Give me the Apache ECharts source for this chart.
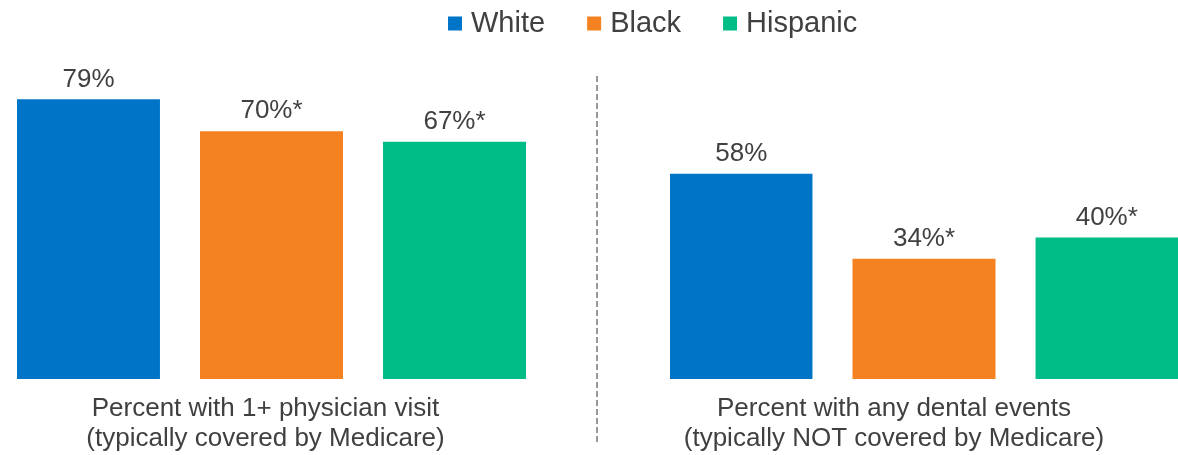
<!DOCTYPE html>
<html>
<head>
<meta charset="utf-8">
<script src="https://cdn.jsdelivr.net/npm/echarts@6/dist/echarts.min.js"></script>
<style>
  html, body { margin: 0; padding: 0; background: #fff; }
  #chart { width: 1178px; height: 455px; }
</style>
</head>
<body>
<div id="chart"></div>
<script>
// groups and races
const races = ['White', 'Black', 'Hispanic']
const measures = [
  'Percent with 1+ physician visit\n(typically covered by Medicare)',
  'Percent with any dental events\n(typically NOT covered by Medicare)'
]
// percent per measure (physician, dental)
const whiteValues = [79, 58]
const blackValues = [70, 34]
const hispanicValues = [67, 40]
// * = significant difference vs White
const whiteSig = [false, false]
const blackSig = [true, true]
const hispanicSig = [true, true]

const raceColors = ['#0074C6', '#F58220', '#00BC86']
const textColor = '#404040'
const fontFamily = '"Liberation Sans", Arial, sans-serif'

let valuesByRace = [whiteValues, blackValues, hispanicValues]
let sigByRace = [whiteSig, blackSig, hispanicSig]

let grids = [
  { left: 17, width: 509, top: 25, bottom: 76 },
  { left: 670, width: 508, top: 25, bottom: 76 }
]
// labels sit a bit left of the bar groups (right group is cut at the edge)
let labelPads = [[0, 12, 0, 0], [0, 60, 0, 0]]

let xAxes = measures.map((m, g) => ({
  type: 'category',
  gridIndex: g,
  data: [m],
  axisLine: { show: false },
  axisTick: { show: false },
  axisLabel: {
    color: textColor,
    fontSize: 26,
    lineHeight: 30,
    margin: 15,
    padding: labelPads[g],
    fontFamily: fontFamily
  }
}))

let yAxes = measures.map((m, g) => ({
  type: 'value',
  gridIndex: g,
  min: 0,
  max: 100,
  show: false
}))

let series = []
measures.forEach((m, g) => {
  races.forEach((r, i) => {
    series.push({
      type: 'bar',
      name: r,
      xAxisIndex: g,
      yAxisIndex: g,
      data: [valuesByRace[i][g]],
      barWidth: 143,
      barGap: '28%',
      barCategoryGap: '0%',
      itemStyle: { color: raceColors[i] },
      label: {
        show: true,
        position: 'top',
        distance: 7,
        color: textColor,
        fontSize: 26,
        fontFamily: fontFamily,
        formatter: p => p.value + '%' + (sigByRace[i][g] ? '*' : '')
      }
    })
  })
})

let chart = echarts.init(document.getElementById('chart'))
chart.setOption({
  animation: false,
  legend: {
    data: races,
    left: 443,
    top: 4,
    icon: 'rect',
    itemWidth: 14,
    itemHeight: 14,
    itemGap: 42,
    textStyle: {
      color: textColor,
      fontSize: 29,
      fontFamily: fontFamily,
      padding: [0, 0, 0, 4]
    }
  },
  grid: grids,
  xAxis: xAxes,
  yAxis: yAxes,
  series: series,
  graphic: [
    {
      type: 'line',
      shape: { x1: 597, y1: 76, x2: 597, y2: 444 },
      style: { stroke: '#999999', lineWidth: 2, lineDash: [6, 3] }
    }
  ]
})
</script>
</body>
</html>
